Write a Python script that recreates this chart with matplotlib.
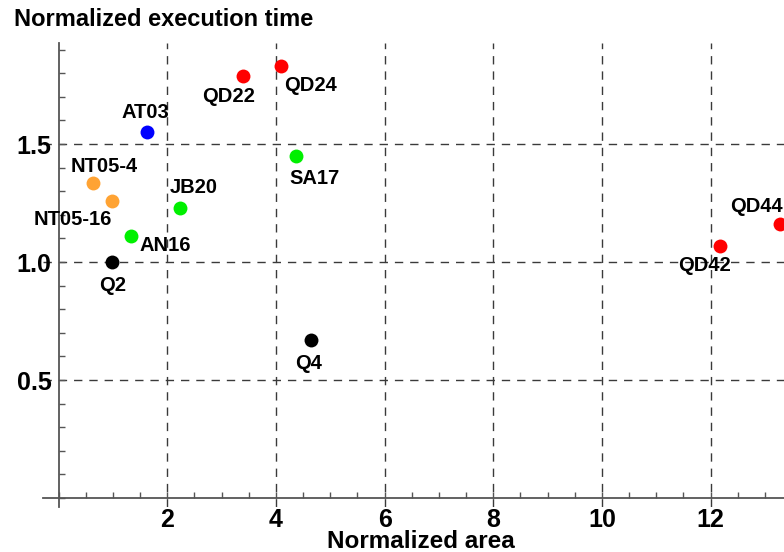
import matplotlib
matplotlib.use("Agg")
import matplotlib.pyplot as plt
from matplotlib.ticker import MultipleLocator, FixedLocator, FixedFormatter

#===DATA======================================================================
names = ["AT03", "QD22", "QD24", "SA17", "NT05-4", "NT05-16",
         "JB20", "AN16", "Q2", "Q4", "QD42", "QD44"]
area = [1.62, 3.40, 4.09, 4.37, 0.63, 0.98, 2.24, 1.33, 0.99, 4.64, 12.17, 13.27]
exec_time = [1.549, 1.789, 1.832, 1.450, 1.333, 1.260, 1.229, 1.110, 1.00, 0.668, 1.069, 1.160]
groups = ["blue", "red", "red", "green", "orange", "orange",
          "green", "green", "black", "black", "red", "red"]

colors = {"blue": "#0000ff", "red": "#ff0000", "green": "#00f000",
          "orange": "#ffa333", "black": "#000000"}

# label offsets (pixels, right / up)
offsets = {"AT03": (-1, 20), "QD22": (-15, -21), "QD24": (30, -20),
           "SA17": (18, -23), "NT05-4": (11, 17), "NT05-16": (-39, -19),
           "JB20": (13, 20), "AN16": (34, -9), "Q2": (0, -23),
           "Q4": (-2, -23), "QD42": (-15, -20), "QD44": (-23, 18)}

#===PLOT======================================================================
W, H, DPI = 784, 552, 100
px = 72.0 / DPI
plt.rcParams['font.family'] = ['Liberation Sans', 'DejaVu Sans']

fig = plt.figure(figsize=(W / DPI, H / DPI), dpi=DPI)
ax = fig.add_axes([43 / W, 1 - 507 / H, 1 - 43 / W, (507 - 43) / H])
ax.set_xlim(-0.287, 13.35)
ax.set_ylim(-0.038, 1.928)

# grid
for gx in [2, 4, 6, 8, 10, 12]:
    ax.axvline(gx, color='#3a3a3a', lw=1.0, dashes=(6, 5), zorder=1)
for gy in [0.5, 1.0, 1.5]:
    ax.axhline(gy, color='#3a3a3a', lw=1.0, dashes=(6, 5), zorder=1)

# points
for n, x, y, g in zip(names, area, exec_time, groups):
    ax.scatter(x, y, s=100, color=colors[g], zorder=3, linewidths=0)
    dx, dy = offsets[n]
    ax.annotate(n, (x, y), xytext=(dx * px, dy * px), textcoords='offset points',
                ha='center', va='center', fontsize=14.5, fontweight='bold', zorder=4)

# axes through origin
for s in ['top', 'right']:
    ax.spines[s].set_visible(False)
for s in ['left', 'bottom']:
    ax.spines[s].set_position(('data', 0))
    ax.spines[s].set_color('#555555')
    ax.spines[s].set_linewidth(1.3)

ax.xaxis.set_major_locator(FixedLocator([2, 4, 6, 8, 10, 12]))
ax.xaxis.set_minor_locator(MultipleLocator(0.5))
ax.yaxis.set_major_locator(FixedLocator([0.5, 1.0, 1.5]))
ax.yaxis.set_major_formatter(FixedFormatter(["0.5", "1.0", "1.5"]))
ax.yaxis.set_minor_locator(MultipleLocator(0.1))
ax.tick_params(which='both', direction='in', length=4, width=1, color='#555555')
ax.tick_params(axis='x', which='major', pad=7, labelsize=18)
ax.tick_params(axis='y', which='major', pad=5, labelsize=18)
for lab in ax.get_xticklabels() + ax.get_yticklabels():
    lab.set_fontweight('bold')

fig.text(14 / W, 1 - 20 / H, "Normalized execution time", fontsize=17,
         fontweight='bold', ha='left', va='center')
fig.text(421 / W, 1 - 541 / H, "Normalized area", fontsize=17.5,
         fontweight='bold', ha='center', va='center')

fig.savefig("out.png", dpi=DPI)
